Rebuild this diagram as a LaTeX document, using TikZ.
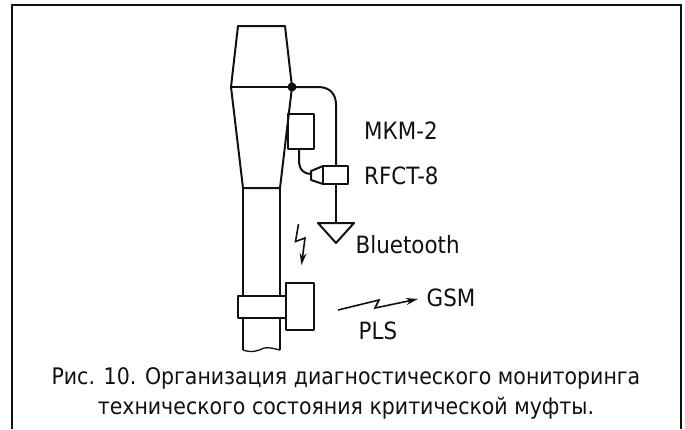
\documentclass[tikz,border=0pt]{standalone}
\usepackage{fontspec}
\setmainfont{DejaVu Sans Condensed}
\usepackage{xcolor}
\usetikzlibrary{arrows.meta}
\definecolor{INK}{HTML}{111111}

\begin{document}
\begin{tikzpicture}[
    x=1pt, y=-1pt,
    frame/.style={draw=INK, line width=2pt},
    part/.style={draw=INK, line width=2pt, line join=round},
    thin part/.style={draw=INK, line width=1.3pt},
    radio/.style={draw=INK, line width=1.6pt, -{Stealth[length=12pt,width=7pt]}},
    lab/.style={font=\fontsize{23.8}{25}\selectfont, text=INK, anchor=base west, inner sep=0pt},
    caption/.style={font=\fontsize{22.8}{29.5}\selectfont, text=INK, align=center, inner sep=0pt},
  ]
  \useasboundingbox (0,0) rectangle (685,429);

  % frame
  \draw[frame] (12,429) -- (12,5) -- (681,5) -- (681,429);

  % coupling body
  \draw[part] (238,26) -- (285,26) -- (292,87) -- (280,188) -- (243,188) -- (231,87) -- cycle;
  \draw[thin part] (231,87) -- (292,87);
  \draw[part] (243,188) -- (243,296);
  \draw[part] (280,188) -- (280,296);
  \draw[part] (243,318) -- (243,350);
  \draw[part] (280,318) -- (280,350);
  \draw[thin part] (243,350) .. controls (252,353) and (258,351) .. (264,348) .. controls (270,347) and (275,349) .. (280,350);

  % sensor and wires
  \coordinate (tap) at (292,87);
  \coordinate (gnd) at (336,223);
  \fill[INK] (tap) circle (4.5);
  \draw[part] (288,114) rectangle (314,149);
  \draw[part] (299,149) -- (299,160) .. controls (299,170) and (304,174) .. (311,174);
  \draw[part] (tap) -- (318,87) .. controls (330,87) and (336,94) .. (336,105) -- (336,166);
  \draw[part] (336,184) -- (gnd);

  % connector
  \draw[part] (323,166) rectangle (348,184);
  \draw[part] (323,166) -- (311,171) -- (311,180) -- (323,184);

  % antenna
  \draw[part] (318,223) -- (354,223) -- (336,243) -- cycle;

  % clamp and transmitter
  \draw[part] (238,296) rectangle (286,318);
  \draw[part] (286,283) rectangle (314,330);

  % radio links
  \draw[radio] (298.5,224) -- (295.5,241.5) -- (305,238) -- (301.5,265);
  \draw[radio] (338,310) -- (379,300) -- (375,308) -- (418,299);

  % labels
  \node[lab] (mkm) at (364,139.5) {МКМ-2};
  \node[lab] (rfct) at (364,184.5) {RFCT-8};
  \node[lab] (bt) at (355.5,253.5) {Bluetooth};
  \node[lab] (gsm) at (426.5,306.5) {GSM};
  \node[lab] (pls) at (358.5,339.5) {PLS};

  % caption
  \node[caption] (cap) at (346,393.5) {Рис. 10. Организация диагностического мониторинга\\технического состояния критической муфты.};

\end{tikzpicture}
\end{document}
